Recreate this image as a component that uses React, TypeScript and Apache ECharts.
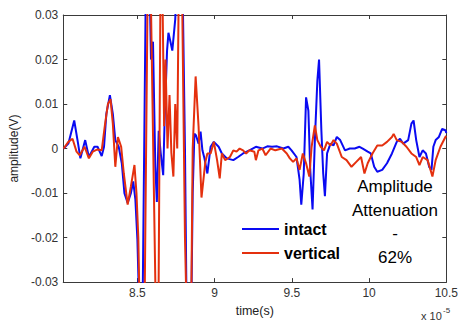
import React, { useEffect, useRef } from "react";
import * as echarts from "echarts";

const xTicks = [8.5, 9, 9.5, 10, 10.5];
const xMin = 8.02;
const xMax = 10.5;

const intactT = [8.022, 8.053, 8.091, 8.116, 8.131, 8.162, 8.186, 8.221, 8.242, 8.269, 8.284, 8.299, 8.322, 8.341, 8.357, 8.379, 8.399, 8.416, 8.437, 8.458, 8.473, 8.487, 8.5,
  8.519, 8.531, 8.557, 8.575, 8.588, 8.601, 8.616, 8.626, 8.638, 8.651, 8.667, 8.676, 8.692, 8.701, 8.714, 8.726, 8.745, 8.764, 8.789, 8.808, 8.821, 8.846, 8.858, 8.869,
  8.879, 8.896, 8.909, 8.921, 8.934, 8.953, 8.974, 8.995, 9.026, 9.047, 9.079, 9.121, 9.152, 9.184, 9.225, 9.267, 9.309, 9.341, 9.372, 9.404, 9.445, 9.477, 9.498, 9.53, 9.55, 9.561, 9.577, 9.592, 9.607, 9.619, 9.634, 9.649, 9.665, 9.676, 9.691, 9.703, 9.714, 9.728, 9.75, 9.77, 9.791, 9.813, 9.844, 9.875, 9.907, 9.938, 9.959, 9.991, 10.011, 10.033, 10.053, 10.085, 10.116, 10.148, 10.179, 10.2, 10.221, 10.253, 10.274, 10.288, 10.305, 10.326, 10.347, 10.368, 10.389, 10.404, 10.416, 10.431, 10.452, 10.473, 10.494, 10.5];
const intactV = [0, 0.0011, 0.0063, 0.0011, -0.0022, 0.0019, -0.0019, 0.0004, 0.0004, -0.0017, 0.0004, 0.0078, 0.012, 0.0078, 0.0019, 0.0004, -0.0033, -0.01, -0.0122, -0.01, -0.0074, -0.0115, -0.0204,
  -0.045, -0.045, 0.045, 0.045, 0.02, 0.024, -0.004, -0.012, 0.004, -0.001, -0.006, 0.006, 0.022, 0.026, 0.024, 0.022, 0.029, 0.045, 0.045, 0, -0.045, -0.045, -0.01, 0.0033,
  0.003, 0.0011, 0.0038, -0.0004, -0.0022, -0.0056, 0.0004, 0.0015, 0.0004, -0.0011, -0.0022, -0.0026, -0.0019, -0.0011, -0.0004, 0.0004, 0, 0.0005, 0.0004, 0.0005, 0, 0.0004, -0.0004, -0.0019, -0.007, -0.0126, -0.0056, 0.0115, 0.0085, -0.0048, -0.0137, 0.0019, 0.0152, 0.02, 0.0041, -0.0056, -0.0107, -0.0011, 0.0011, 0.0007, 0.0026, 0.0019, -0.0004, 0, 0, 0.0004, 0, -0.0007, -0.0011, -0.0041, -0.0052, -0.0048, -0.0033, -0.0011, 0.0015, 0.0022, 0.0011, 0.0019, 0.0056, 0.0063, 0.0019, -0.0019, -0.0004, -0.0011, -0.0041, -0.0048, 0.0004, 0.0019, 0.0026, 0.0044, 0.0041, 0.0035];

const verticalT = [8.022, 8.053, 8.08, 8.106, 8.127, 8.158, 8.186, 8.211, 8.242, 8.269, 8.291, 8.309, 8.326, 8.341, 8.357, 8.374, 8.395, 8.412, 8.437, 8.458,
  8.481, 8.494, 8.506, 8.519, 8.544, 8.569, 8.582, 8.623, 8.635, 8.651, 8.664, 8.673, 8.682, 8.695, 8.708, 8.72, 8.733, 8.745, 8.758, 8.77, 8.786, 8.808, 8.824, 8.846, 8.858, 8.877, 8.896, 8.915, 8.94,
  8.953, 8.974, 8.995, 9.016, 9.033, 9.047, 9.068, 9.099, 9.121, 9.142, 9.162, 9.184, 9.204, 9.225, 9.257, 9.267, 9.284, 9.309, 9.33, 9.362, 9.393, 9.435, 9.467, 9.487, 9.508, 9.53, 9.55, 9.571, 9.592, 9.613, 9.628, 9.649, 9.665, 9.687, 9.708, 9.728, 9.75, 9.77, 9.791, 9.823, 9.854, 9.886, 9.917, 9.948, 9.97, 9.991, 10.022, 10.053, 10.085, 10.116, 10.148, 10.159, 10.179, 10.211, 10.242, 10.274, 10.305, 10.326, 10.347, 10.379, 10.41, 10.431, 10.462, 10.494, 10.5];
const verticalV = [0, 0.0015, 0.0022, -0.0007, -0.0015, 0.0004, -0.0022, -0.0007, -0.0002, -0.0004, 0.0056, 0.01, 0.0111, 0.0056, -0.0041, 0.0026, 0.0004, -0.0056, -0.0126, -0.0085,
  -0.0037, -0.01, -0.02, -0.045, -0.045, 0.045, 0.045, -0.045, -0.045, 0.045, 0.03, 0.005, 0.02, 0, 0.012, -0.001, -0.0063, 0.01, 0, 0.045, 0.045, -0.02, -0.045, -0.045, 0, 0.0162, 0.005, -0.011, -0.003,
  -0.0011, -0.0011, 0.0015, -0.0026, -0.0067, -0.0011, -0.0026, -0.0019, -0.0004, -0.0007, 0, -0.0004, -0.0011, -0.0004, -0.0007, -0.0026, -0.0004, 0, -0.0015, 0, -0.0004, 0, -0.0011, -0.0022, -0.003, -0.0022, -0.0048, -0.0011, -0.0033, -0.0063, 0.0004, 0.0052, 0.0019, 0.0004, -0.0004, 0.0015, 0.0007, 0.0019, 0.0011, -0.0019, -0.0026, -0.0041, -0.003, -0.0019, -0.0056, -0.0033, -0.0011, 0.0007, 0.0007, 0.0015, 0.0026, 0.0033, 0.0019, 0.0015, 0.0004, -0.0011, -0.0019, -0.0037, -0.0019, -0.0026, -0.0063, -0.0026, 0.0004, 0.0026, 0.0028];

const seriesNames = ["intact", "vertical"];
const annotationLines = ["Amplitude", "Attenuation", "-", "62%"];

const FONT = "'Liberation Sans', Arial, sans-serif";
const AXIS_COLOR = "#3a3a3a";

export default function App() {
  const ref = useRef<HTMLDivElement>(null);
  useEffect(() => {
    if (!ref.current) return;
    const chart = echarts.init(ref.current, null, { renderer: "svg" });
    const pair = (t: number[], v: number[]) => t.map((x, i) => [x, v[i]]);
    const axisCommon = {
      type: "value" as const,
      axisLine: { show: true, onZero: false, lineStyle: { color: AXIS_COLOR, width: 1 } },
      axisTick: { show: true, inside: true, length: 4, lineStyle: { color: AXIS_COLOR } },
      splitLine: { show: false },
    };
    chart.setOption({
      animation: false,
      backgroundColor: "#ffffff",
      grid: { left: 57, right: 10, top: 15, bottom: 36 },
      legend: {
        data: seriesNames,
        orient: "vertical",
        left: 242,
        top: 219,
        padding: 0,
        icon: "rect",
        itemWidth: 37,
        itemHeight: 2,
        itemGap: 4,
        textStyle: { fontFamily: FONT, fontSize: 16, fontWeight: "bold", color: "#000", lineHeight: 20 },
      },
      xAxis: [
        {
          ...axisCommon,
          position: "bottom",
          min: xMin,
          max: xMax,
          axisTick: { ...axisCommon.axisTick, customValues: xTicks },
          axisLabel: { customValues: xTicks, margin: 5, fontFamily: FONT, fontSize: 12, color: "#333" },
          name: "time(s)",
          nameLocation: "middle",
          nameGap: 20,
          nameTextStyle: { fontFamily: FONT, fontSize: 12.5, color: "#222" },
        },
        {
          ...axisCommon,
          position: "top",
          min: xMin,
          max: xMax,
          axisTick: { ...axisCommon.axisTick, customValues: xTicks },
          axisLabel: { show: false, customValues: xTicks },
        },
      ],
      yAxis: [
        {
          ...axisCommon,
          position: "left",
          min: -0.03,
          max: 0.03,
          interval: 0.01,
          axisLabel: { margin: 5, fontFamily: FONT, fontSize: 12, color: "#333" },
          name: "amplitude(V)",
          nameLocation: "middle",
          nameGap: 39,
          nameTextStyle: { fontFamily: FONT, fontSize: 12, color: "#222" },
        },
        {
          ...axisCommon,
          position: "right",
          min: -0.03,
          max: 0.03,
          interval: 0.01,
          axisLabel: { show: false },
        },
      ],
      series: [
        {
          name: seriesNames[0],
          type: "line",
          xAxisIndex: 0,
          yAxisIndex: 0,
          data: pair(intactT, intactV),
          showSymbol: false,
          symbol: "none",
          clip: true,
          color: "#0a0af2",
          lineStyle: { color: "#0a0af2", width: 2 },
        },
        {
          name: seriesNames[1],
          type: "line",
          xAxisIndex: 0,
          yAxisIndex: 0,
          data: pair(verticalT, verticalV),
          showSymbol: false,
          symbol: "none",
          clip: true,
          color: "#e4300e",
          lineStyle: { color: "#e4300e", width: 2 },
        },
      ],
      graphic: [
        {
          type: "text",
          x: 395,
          y: 175,
          style: {
            text: annotationLines.join("\n"),
            fontFamily: FONT,
            fontSize: 17,
            lineHeight: 23.5,
            textAlign: "center",
            textVerticalAlign: "top",
            fill: "#000",
          },
        },
        {
          type: "text",
          x: 421,
          y: 316,
          style: { text: "x 10", fontFamily: FONT, fontSize: 11, textVerticalAlign: "middle", fill: "#333" },
        },
        {
          type: "text",
          x: 443,
          y: 310,
          style: { text: "-5", fontFamily: FONT, fontSize: 8, textVerticalAlign: "middle", fill: "#333" },
        },
      ],
    });
    return () => chart.dispose();
  }, []);
  return <div ref={ref} style={{ position: "absolute", left: 0, top: 0, width: 461, height: 322 }} />;
}
